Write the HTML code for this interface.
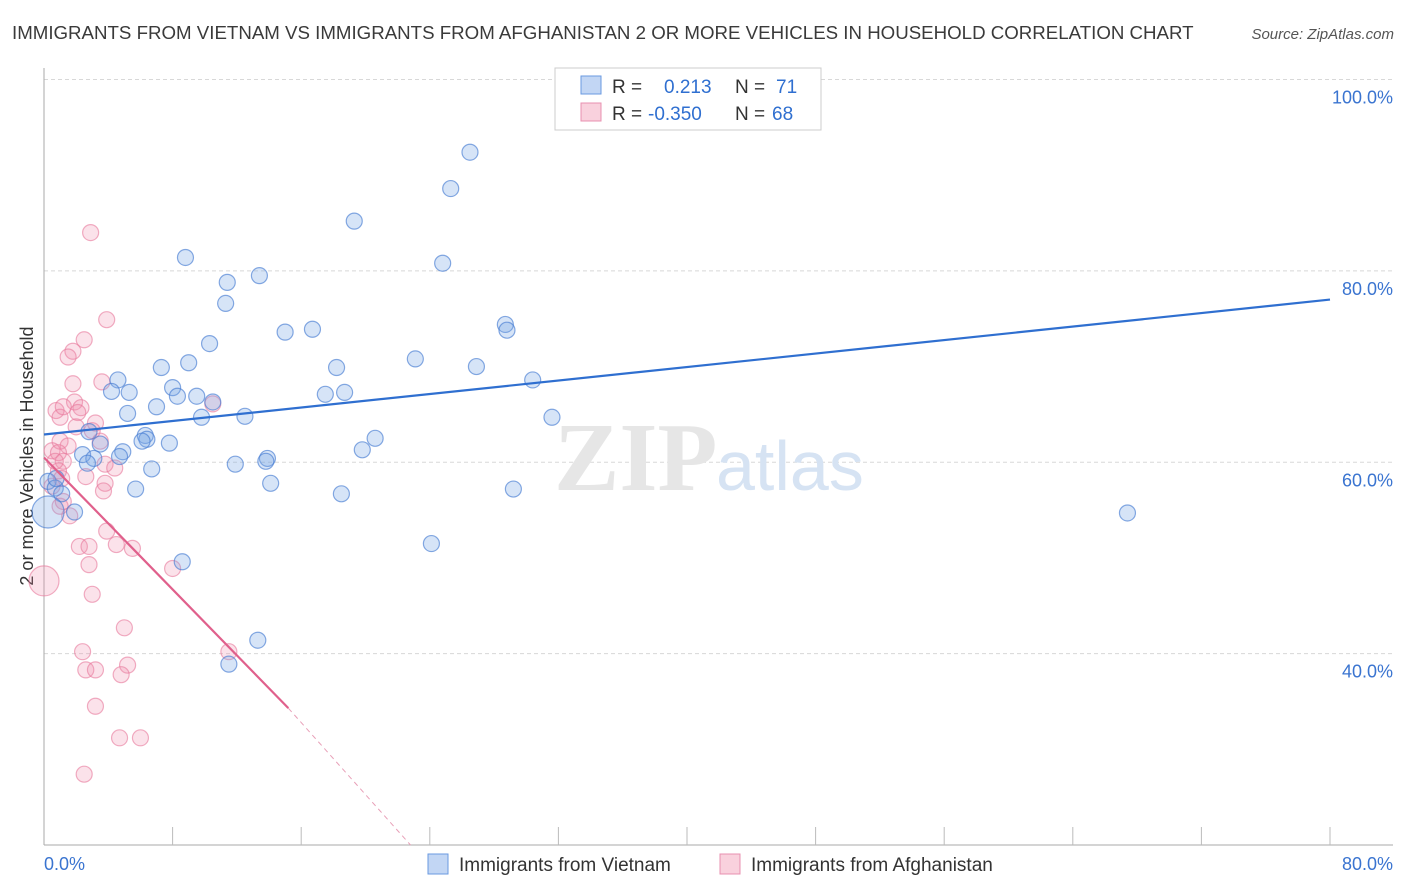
<!DOCTYPE html>
<html><head><meta charset="utf-8">
<style>
body{margin:0;background:#fff;font-family:"Liberation Sans",sans-serif;}
#wrap{position:relative;width:1406px;height:892px;overflow:hidden;}
</style></head>
<body>
<div id="wrap">
<svg id="chart" width="1406" height="892"></svg>
</div>
<script>
// Data (x in %, y in %)
const vietnamX=[26.5,25.3,19.3,8.8,24.8,11.4,13.4,11.3,15.0,16.7,10.3,28.7,28.8,23.1,26.9,18.2,7.3,9.0,4.6,4.2,5.3,8.0,8.3,9.5,10.5,7.0,5.2,9.8,12.5,17.5,18.7,30.4,31.6,2.8,6.3,6.4,6.1,7.8,3.5,20.6,19.8,4.9,4.7,2.4,3.1,2.7,6.7,11.9,13.9,13.8,14.1,5.7,0.25,0.7,1.1,1.9,0.75,18.5,29.2,24.1,8.6,13.3,11.5,67.4,0.25];
const vietnamY=[92.4,88.6,85.2,81.4,80.8,78.8,79.5,76.6,73.6,73.9,72.4,74.4,73.8,70.8,70.0,69.9,69.9,70.4,68.6,67.4,67.3,67.8,66.9,66.9,66.3,65.8,65.1,64.7,64.8,67.1,67.3,68.6,64.7,63.2,62.8,62.4,62.2,62.0,61.9,62.5,61.3,61.1,60.6,60.8,60.4,59.9,59.3,59.8,60.4,60.1,57.8,57.2,58.0,57.3,56.7,54.8,58.3,56.7,57.2,51.5,49.6,41.4,38.9,54.7,54.8];
const vietnamR=[8,8,8,8,8,8,8,8,8,8,8,8,8,8,8,8,8,8,8,8,8,8,8,8,8,8,8,8,8,8,8,8,8,8,8,8,8,8,8,8,8,8,8,8,8,8,8,8,8,8,8,8,8,8,8,8,8,8,8,8,8,8,8,8,16];
const afghanX=[2.9,3.9,2.5,1.8,1.5,1.8,3.6,1.9,2.3,2.1,0.75,1.0,3.2,3.5,3.0,1.0,1.5,0.5,0.9,1.2,3.8,4.4,0.9,1.1,2.6,3.8,3.7,0.5,1.6,1.0,3.9,2.2,2.8,4.5,5.5,2.8,8.0,3.0,5.0,2.4,11.5,5.2,2.6,3.2,4.8,3.2,4.7,6.0,2.5,0.0,10.5,1.2,0.7,1.2,2.0];
const afghanY=[84.0,74.9,72.8,71.6,71.0,68.2,68.4,66.3,65.7,65.2,65.4,64.7,64.1,62.2,63.3,62.2,61.7,61.2,61.0,60.1,59.8,59.4,59.1,58.3,58.5,57.8,57.0,57.5,54.4,55.4,52.8,51.2,51.2,51.4,51.0,49.3,48.9,46.2,42.7,40.2,40.2,38.8,38.3,38.3,37.8,34.5,31.2,31.2,27.4,47.6,66.1,65.8,60.1,55.9,63.7];
const afghanR=[8,8,8,8,8,8,8,8,8,8,8,8,8,8,8,8,8,8,8,8,8,8,8,8,8,8,8,8,8,8,8,8,8,8,8,8,8,8,8,8,8,8,8,8,8,8,8,8,8,15,8,8,8,8,8];
const yTicks=[100,80,60,40];
const yTickLabels=["100.0%","80.0%","60.0%","40.0%"];
const vietTrend=[[0,62.9],[80,77.0]];
const afgTrendSolid=[[0,60.5],[15.2,34.3]];
const afgTrendDash=[[15.2,34.3],[22.8,20.0]];

const L=44,R=1330,T=79.5,B=845;
const sx=v=>L+v/80*(R-L);
const sy=v=>T+(100-v)/80*(B-T);
const NS="http://www.w3.org/2000/svg";
const svg=document.getElementById('chart');
function mk(tag,attrs,parent){const e=document.createElementNS(NS,tag);for(const k in attrs)e.setAttribute(k,attrs[k]);(parent||svg).appendChild(e);return e;}

let t=mk('text',{x:12,y:39,'font-size':18.7,fill:'#3a3a3a'});t.textContent="IMMIGRANTS FROM VIETNAM VS IMMIGRANTS FROM AFGHANISTAN 2 OR MORE VEHICLES IN HOUSEHOLD CORRELATION CHART";


t=mk('text',{x:1394,y:39,'font-size':15,fill:'#555','font-style':'italic','text-anchor':'end'});t.textContent="Source: ZipAtlas.com";



yTicks.forEach((v,i)=>{
  const g=mk('line',{x1:L,x2:1393,y1:sy(v),y2:sy(v),stroke:'#d8d8d8','stroke-dasharray':'4,3'});
  
  
  const lb=mk('text',{x:1393,y:sy(v)+24,'font-size':18,fill:'#3a74d0','text-anchor':'end'});lb.textContent=yTickLabels[i];
  
  
});
let ax=mk('line',{x1:L,x2:L,y1:68,y2:B,stroke:'#aaa'});


ax=mk('line',{x1:L,x2:1393,y1:B,y2:B,stroke:'#aaa'});


for(let i=1;i<=10;i++){const x=L+i*(R-L)/10;const tk=mk('line',{x1:x,x2:x,y1:B,y2:B-18,stroke:'#bbb'});

}
t=mk('text',{x:44,y:870,'font-size':18,fill:'#3a74d0'});t.textContent="0.0%";


t=mk('text',{x:1393,y:870,'font-size':18,fill:'#3a74d0','text-anchor':'end'});t.textContent="80.0%";


t=mk('text',{x:33,y:456,'font-size':18,fill:'#333','text-anchor':'middle',transform:'rotate(-90 33 456)'});t.textContent="2 or more Vehicles in Household";



t=mk('text',{x:554,y:490,'font-size':98,fill:'#e6e6e6','font-family':'Liberation Serif, serif','font-weight':'bold'});t.textContent="ZIP";


t=mk('text',{x:716,y:490,'font-size':70,fill:'#d6e3f3'});t.textContent="atlas";



afghanX.forEach((x,i)=>{const c=mk('circle',{cx:sx(x),cy:sy(afghanY[i]),r:afghanR[i],fill:'rgba(240,140,170,0.25)',stroke:'rgba(232,120,155,0.6)','stroke-width':1.2});

});
vietnamX.forEach((x,i)=>{const c=mk('circle',{cx:sx(x),cy:sy(vietnamY[i]),r:vietnamR[i],fill:'rgba(120,165,230,0.3)',stroke:'rgba(70,125,210,0.65)','stroke-width':1.2});

});

let ln=mk('line',{x1:sx(vietTrend[0][0]),y1:sy(vietTrend[0][1]),x2:sx(vietTrend[1][0]),y2:sy(vietTrend[1][1]),stroke:'#2f6fd0','stroke-width':2.2});


ln=mk('line',{x1:sx(afgTrendSolid[0][0]),y1:sy(afgTrendSolid[0][1]),x2:sx(afgTrendSolid[1][0]),y2:sy(afgTrendSolid[1][1]),stroke:'#e0608c','stroke-width':2.2});


ln=mk('line',{x1:sx(afgTrendDash[0][0]),y1:sy(afgTrendDash[0][1]),x2:sx(afgTrendDash[1][0]),y2:sy(afgTrendDash[1][1]),stroke:'#e8a0b8','stroke-width':1,'stroke-dasharray':'5,4'});



const lg=mk('g',{});


mk('rect',{x:555,y:68,width:266,height:62,fill:'#fff',stroke:'#ccc'},lg);
mk('rect',{x:581,y:76,width:20,height:18,fill:'rgba(120,165,230,0.45)',stroke:'#6a9ae0'},lg);
mk('rect',{x:581,y:103,width:20,height:18,fill:'rgba(240,140,170,0.4)',stroke:'#e890b0'},lg);
function tx(x,y,s,c){const e=mk('text',{x:x,y:y,'font-size':19,fill:c},lg);e.textContent=s;return e;}
tx(612,93,'R =','#333');tx(664,93,'0.213','#2f6fd0');tx(735,93,'N =','#333');tx(776,93,'71','#2f6fd0');
tx(612,120,'R =','#333');tx(648,120,'-0.350','#2f6fd0');tx(735,120,'N =','#333');tx(772,120,'68','#2f6fd0');

const bl=mk('g',{});


mk('rect',{x:428,y:854,width:20,height:20,fill:'rgba(120,165,230,0.45)',stroke:'#6a9ae0'},bl);
let e=mk('text',{x:459,y:871,'font-size':19,fill:'#333'},bl);e.textContent="Immigrants from Vietnam";
mk('rect',{x:720,y:854,width:20,height:20,fill:'rgba(240,140,170,0.4)',stroke:'#e890b0'},bl);
e=mk('text',{x:751,y:871,'font-size':19,fill:'#333'},bl);e.textContent="Immigrants from Afghanistan";
</script>
</body></html>
